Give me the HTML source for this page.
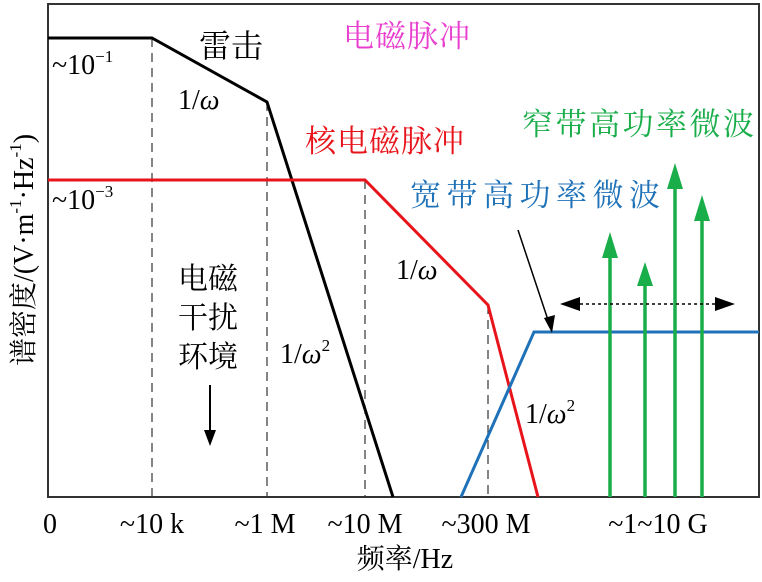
<!DOCTYPE html>
<html><head><meta charset="utf-8"><style>body{margin:0;background:#fff}</style></head><body>
<svg width="762" height="577" xmlns="http://www.w3.org/2000/svg" font-family="'Liberation Serif','Noto Serif CJK SC',serif">
<rect x="48" y="4" width="711" height="493" fill="none" stroke="#333" stroke-width="2"/>
<g stroke="#333" stroke-width="1.2" stroke-dasharray="9,6">
<line x1="152" y1="38" x2="152" y2="497"/><line x1="267" y1="102" x2="267" y2="497"/>
<line x1="365" y1="180" x2="365" y2="497"/><line x1="488" y1="305" x2="488" y2="497"/>
</g>
<polyline points="48,38 152,38 267,102 393,497" fill="none" stroke="#000" stroke-width="3"/>
<polyline points="48,180 365,180 488,305 538,497" fill="none" stroke="#e8141b" stroke-width="3"/>
<polyline points="461,497 534,332 759,332" fill="none" stroke="#1f72b8" stroke-width="3"/>
<g stroke="#1aae4a" stroke-width="3.5" fill="#1aae4a">
<line x1="610" y1="497" x2="610" y2="250"/><path d="M602,258 L610,232 L618,258z" stroke="none"/>
<line x1="645" y1="497" x2="645" y2="280"/><path d="M637,286 L645,262 L653,286z" stroke="none"/>
<line x1="675" y1="497" x2="675" y2="180"/><path d="M667,189 L675,163 L683,189z" stroke="none"/>
<line x1="702" y1="497" x2="702" y2="212"/><path d="M694,221 L702,195 L710,221z" stroke="none"/>
</g>
<line x1="580" y1="304" x2="715" y2="304" stroke="#000" stroke-width="1.5" stroke-dasharray="3,3"/>
<path d="M560,304 L580,297 L580,311z M735,304 L715,297 L715,311z" fill="#000"/>
<line x1="518" y1="230" x2="550" y2="326" stroke="#000" stroke-width="1.5"/>
<path d="M544,318 L552,333 L555,315z" fill="#000"/>
<line x1="210" y1="385" x2="210" y2="432" stroke="#000" stroke-width="2"/>
<path d="M204,430 L210,446 L216,430z" fill="#000"/>
<g font-size="31">
<text x="199" y="57" font-size="32">雷击</text>
<text x="343" y="47" fill="#e83fcf" letter-spacing="1">电磁脉冲</text>
<text x="305" y="152" fill="#e8141b" letter-spacing="1">核电磁脉冲</text>
<text x="522" y="135" fill="#1aae4a" letter-spacing="2.5">窄带高功率微波</text>
<text x="410" y="206" fill="#1f72b8" letter-spacing="5.5">宽带高功率微波</text>
<text x="178" y="289" font-size="30">电磁</text><text x="178" y="328" font-size="30">干扰</text><text x="178" y="367" font-size="30">环境</text>
</g>
<g font-size="28">
<text x="178" y="109">1/<tspan font-style="italic">ω</tspan></text>
<text x="396" y="279">1/<tspan font-style="italic">ω</tspan></text>
<text x="280" y="363">1/<tspan font-style="italic">ω</tspan><tspan font-size="17" dy="-12">2</tspan></text>
<text x="525" y="423">1/<tspan font-style="italic">ω</tspan><tspan font-size="17" dy="-12">2</tspan></text>
<text x="52" y="74">~10<tspan font-size="17" dy="-12">−1</tspan></text>
<text x="52" y="209">~10<tspan font-size="17" dy="-12">−3</tspan></text>
</g>
<g font-size="28" text-anchor="middle">
<text x="50" y="533">0</text><text x="152" y="533">~10 k</text><text x="265" y="533">~1 M</text>
<text x="365" y="533">~10 M</text><text x="486" y="533">~300 M</text><text x="658" y="533">~1~10 G</text>
<text x="405" y="568">频率/Hz</text>
<text transform="translate(33,250) rotate(-90)">谱密度/(V·m<tspan font-size="17" dy="-12">-1</tspan><tspan dy="12">·Hz</tspan><tspan font-size="17" dy="-12">-1</tspan><tspan dy="12">)</tspan></text>
</g>
</svg>
</body></html>
